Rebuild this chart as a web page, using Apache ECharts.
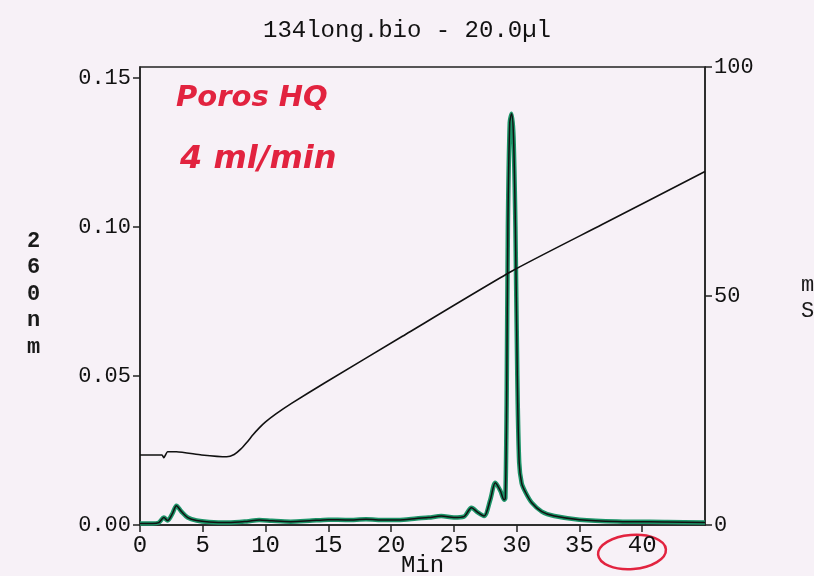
<!DOCTYPE html>
<html><head><meta charset="utf-8">
<script src="https://cdn.jsdelivr.net/npm/echarts@6/dist/echarts.min.js"></script>
<style>html,body{margin:0;padding:0;background:#f7f1f7}#c{width:814px;height:576px}</style>
</head><body><div id="c"></div>
<script>
// Chromatogram (A260, left axis)
const timeMin = [0, 1.0, 1.5, 1.9, 2.2, 2.6, 2.9, 3.3, 3.8, 4.5, 5.5, 7, 8.5, 9.5, 10.5, 12, 13.5, 15, 16.5, 18, 19.5, 21, 22, 23, 24, 25, 25.8, 26.4, 26.9, 27.4, 27.9, 28.3, 28.7, 29.0, 29.1, 29.2, 29.3, 29.45, 29.6, 29.75, 29.9, 30.05, 30.2, 30.4, 30.7, 31.2, 32.0, 33, 35, 38, 42, 45];
const absorbance = [0.0005, 0.0005, 0.0008, 0.0025, 0.0015, 0.004, 0.0065, 0.0045, 0.0025, 0.0015, 0.001, 0.0008, 0.0012, 0.0017, 0.0014, 0.0011, 0.0014, 0.0018, 0.0017, 0.0019, 0.0017, 0.0018, 0.0022, 0.0025, 0.0030, 0.0025, 0.0028, 0.0058, 0.0042, 0.0030, 0.0085, 0.0142, 0.0115, 0.0085, 0.009, 0.04, 0.10, 0.135, 0.138, 0.13, 0.10, 0.05, 0.021, 0.014, 0.011, 0.0075, 0.0045, 0.0030, 0.0018, 0.0012, 0.0010, 0.0008];
// Conductivity gradient (mS, right axis)
const gradTime = [0, 1.75, 1.9, 2.2, 2.9, 4.9, 6.9, 7.5, 8.0, 8.5, 9.0, 9.5, 10.0, 10.8, 12.1, 14.7, 20.9, 29.6, 36.8, 45];
const gradValue = [15.3, 15.3, 14.7, 16.0, 16.0, 15.3, 14.9, 15.4, 16.5, 18.0, 19.7, 21.2, 22.5, 24.2, 26.6, 31.0, 41.2, 55.4, 65.6, 77.2];
// Axis ticks
const xTicks = [0, 5, 10, 15, 20, 25, 30, 35, 40, 45];
const leftTicks = [0, 0.05, 0.10, 0.15];
const rightTicks = [0, 50, 100];

const mono = 'Liberation Mono';
const absData = timeMin.map((t, i) => [t, absorbance[i]]);
const gradData = gradTime.map((t, i) => [t, gradValue[i]]);
const chart = echarts.init(document.getElementById('c'), null, {renderer: 'canvas'});
chart.setOption({
  backgroundColor: '#f7f1f7',
  animation: false,
  title: {text: '134long.bio - 20.0µl', left: 'center', top: 14,
    textStyle: {fontFamily: mono, fontSize: 24, fontWeight: 'normal', color: '#111'}},
  grid: {left: 140, right: 109, top: 67, bottom: 51, show: true, borderColor: '#222', borderWidth: 1.5,
    backgroundColor: 'transparent', outerBoundsMode: 'none', containLabel: false},
  xAxis: {type: 'value', min: 0, max: 45, interval: 5,
    name: 'Min', nameLocation: 'middle', nameGap: 29, nameMoveOverlap: false,
    nameTextStyle: {fontFamily: mono, fontSize: 24, color: '#111'},
    axisLine: {lineStyle: {color: '#222', width: 1.5}},
    axisTick: {length: 7, lineStyle: {color: '#222', width: 1.5}},
    axisLabel: {fontFamily: mono, fontSize: 24, color: '#111', margin: 9, showMaxLabel: false,
      formatter: v => xTicks.includes(v) ? String(v) : ''},
    splitLine: {show: false}},
  yAxis: [
    {type: 'value', min: 0, max: 0.1537, interval: 0.05, position: 'left',
      axisLine: {show: true, lineStyle: {color: '#222', width: 1.5}},
      axisTick: {show: true, length: 7, lineStyle: {color: '#222', width: 1.5}},
      axisLabel: {fontFamily: mono, fontSize: 22, color: '#111', margin: 9, showMaxLabel: false,
        formatter: v => leftTicks.some(t => Math.abs(t - v) < 1e-6) ? v.toFixed(2) : ''},
      splitLine: {show: false}},
    {type: 'value', min: 0, max: 100, interval: 50, position: 'right',
      axisLine: {show: true, lineStyle: {color: '#222', width: 1.5}},
      axisTick: {show: true, length: 7, lineStyle: {color: '#222', width: 1.5}},
      axisLabel: {fontFamily: mono, fontSize: 22, color: '#111', margin: 9,
        formatter: v => rightTicks.includes(v) ? String(v) : ''},
      splitLine: {show: false}}
  ],
  series: [
    {type: 'line', name: 'A260 green', data: absData, yAxisIndex: 0, showSymbol: false, smooth: 0.3,
      lineStyle: {color: '#1c9468', width: 4.5}, z: 2},
    {type: 'line', name: 'A260', data: absData, yAxisIndex: 0, showSymbol: false, smooth: 0.3,
      lineStyle: {color: '#111', width: 1.5}, z: 3},
    {type: 'line', name: 'mS', data: gradData, yAxisIndex: 1, showSymbol: false, smooth: 0.2,
      lineStyle: {color: '#111', width: 1.6}, z: 3}
  ],
  graphic: [
    {type: 'text', left: 27, top: 228, style: {text: '2\n6\n0\nn\nm', fontFamily: mono, fontSize: 22, fontWeight: 'bold', lineHeight: 26.5, fill: '#1a1a1a'}},
    {type: 'text', left: 801, top: 272, style: {text: 'm\nS', fontFamily: mono, fontSize: 22, lineHeight: 26, fill: '#1a1a1a'}},
    {type: 'text', left: 176, top: 84, style: {text: 'Poros HQ', fontFamily: 'DejaVu Sans', fontStyle: 'italic', fontWeight: 'bold', fontSize: 29, fill: '#e2233f'}},
    {type: 'text', left: 180, top: 144, style: {text: '4 ml/min', fontFamily: 'DejaVu Sans', fontStyle: 'italic', fontWeight: 'bold', fontSize: 32, fill: '#e2233f'}},
    {type: 'ellipse', shape: {cx: 632, cy: 552, rx: 34, ry: 17}, rotation: 0.08, originX: 632, originY: 552, style: {fill: 'none', stroke: '#e2233f', lineWidth: 2.5}}
  ]
});
</script></body></html>
